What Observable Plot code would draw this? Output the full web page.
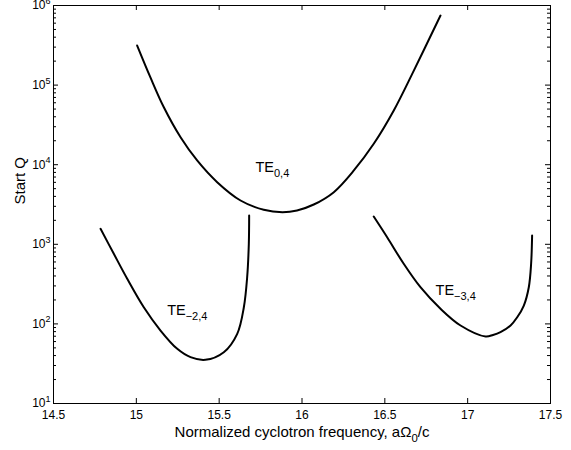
<!DOCTYPE html>
<html>
<head>
<meta charset="utf-8">
<script src="https://cdn.jsdelivr.net/npm/d3@7"></script>
<script src="https://cdn.jsdelivr.net/npm/@observablehq/plot@0.6"></script>
<style>
  html, body { margin: 0; padding: 0; background: white; }
  #chart { width: 571px; height: 450px; }
</style>
</head>
<body>
<div id="chart"></div>
<script>
// ---- data ----
const te04X = [15.005, 15.085, 15.166, 15.267, 15.367, 15.488, 15.629, 15.769, 15.882, 15.97, 16.071, 16.192, 16.313, 16.433, 16.554, 16.675, 16.836];
const te04Q = [314000, 125000, 52600, 22100, 11300, 6030, 3550, 2710, 2530, 2660, 3160, 4520, 8460, 18300, 48000, 152000, 748000];

const te24X = [14.784, 14.864, 14.945, 15.045, 15.146, 15.247, 15.327, 15.417, 15.528, 15.609, 15.649, 15.669, 15.679, 15.681];
const te24Q = [1566, 760, 369, 162, 82.6, 48.6, 38.2, 35.4, 44.1, 75.1, 162, 386, 1013, 2300];

const te34X = [16.433, 16.514, 16.614, 16.715, 16.836, 16.957, 17.108, 17.153, 17.198, 17.259, 17.299, 17.339, 17.369, 17.383, 17.389];
const te34Q = [2234, 1227, 569, 289, 155, 95.5, 69.5, 72.6, 78.7, 95.5, 121, 170, 289, 569, 1291];

const modeNames = ["TE_{0,4}", "TE_{\u22122,4}", "TE_{\u22123,4}"];
const labelX = [15.719, 15.186, 16.806];
const labelQ = [9330, 148, 264];

const xTicks = [14.5, 15, 15.5, 16, 16.5, 17, 17.5];
const xTickLabels = ["14.5", "15", "15.5", "16", "16.5", "17", "17.5"];
const yTicks = [1e1, 1e2, 1e3, 1e4, 1e5, 1e6];
const yTickLabels = ["10^{1}", "10^{2}", "10^{3}", "10^{4}", "10^{5}", "10^{6}"];
const yMinor = [2,3,4,5,6,7,8,9].flatMap(m => [1e1,1e2,1e3,1e4,1e5].map(p => m * p));

const xTitle = "Normalized cyclotron frequency, a\u03A9_{0}/c";
const yTitle = "Start Q";

// ---- build table ----
const curves = [[te04X, te04Q], [te24X, te24Q], [te34X, te34Q]];
const rows = curves.flatMap(([xs, qs], k) => xs.map((x, i) => ({mode: modeNames[k], x, q: qs[i]})));
const labels = modeNames.map((m, i) => ({text: m, x: labelX[i], q: labelQ[i]}));

const W = 571, H = 450, mL = 53, mR = 21, mT = 5, mB = 47;
const fw = W - mL - mR, fh = H - mT - mB;
const majorLen = 5, minorLen = 3;

const yLabelOf = d => {
  const i = yTicks.findIndex(t => Math.abs(t - d) / t < 1e-6);
  return i < 0 ? "" : yTickLabels[i];
};

const chart = Plot.plot({
  width: W, height: H,
  marginLeft: mL, marginRight: mR, marginTop: mT, marginBottom: mB,
  style: {fontFamily: "'Liberation Sans', Arial, Helvetica, sans-serif", fontSize: "12px", color: "black", background: "white", overflow: "visible"},
  x: {domain: [14.5, 17.5]},
  y: {type: "log", domain: [10, 1e6]},
  marks: [
    Plot.frame({stroke: "black", strokeWidth: 1}),
    Plot.tickX(xTicks, {x: d => d, insetTop: fh - majorLen, stroke: "black"}),
    Plot.tickX(xTicks, {x: d => d, insetBottom: fh - majorLen, stroke: "black"}),
    Plot.tickY(yTicks, {y: d => d, insetRight: fw - majorLen, stroke: "black"}),
    Plot.tickY(yTicks, {y: d => d, insetLeft: fw - majorLen, stroke: "black"}),
    Plot.tickY(yMinor, {y: d => d, insetRight: fw - minorLen, stroke: "black"}),
    Plot.tickY(yMinor, {y: d => d, insetLeft: fw - minorLen, stroke: "black"}),
    Plot.axisX({ticks: xTicks, tickSize: 0, tickPadding: 7, tickFormat: (d, i) => xTickLabels[i], label: null, fontSize: 12}),
    Plot.axisY({ticks: yTicks, tickSize: 0, tickPadding: 3, tickFormat: yLabelOf, label: null, fontSize: 12}),
    Plot.text([xTitle], {text: d => d, frameAnchor: "bottom", lineAnchor: "bottom", dy: 33, fontSize: 15, fill: "black"}),
    Plot.text([yTitle], {text: d => d, frameAnchor: "left", lineAnchor: "bottom", rotate: -90, dx: -28.5, fontSize: 15, fill: "black"}),
    Plot.line(rows, {x: "x", y: "q", z: "mode", stroke: "black", strokeWidth: 2, curve: "catmull-rom"}),
    Plot.text(labels, {x: "x", y: "q", text: "text", textAnchor: "start", fontSize: 14.5, fill: "black"})
  ]
});
document.getElementById("chart").appendChild(chart);

// ---- render _{...} and ^{...} as sub/superscripts ----
const svgns = "http://www.w3.org/2000/svg";
d3.select(chart).selectAll("text").each(function() {
  const el = this;
  const s = el.textContent;
  if (!/[_^]\{/.test(s)) return;
  const base = parseFloat(getComputedStyle(el).fontSize) || 12;
  const parts = s.split(/([_^]\{[^}]*\})/).filter(p => p);
  el.textContent = "";
  let shift = 0;
  for (const p of parts) {
    const ts = document.createElementNS(svgns, "tspan");
    let target = 0, txt = p, fs = base;
    if (p.startsWith("_{")) { target = 0.36 * base; txt = p.slice(2, -1); fs = 0.76 * base; }
    else if (p.startsWith("^{")) { target = -0.45 * base; txt = p.slice(2, -1); fs = 0.75 * base; }
    ts.setAttribute("dy", (target - shift).toFixed(2));
    ts.setAttribute("font-size", fs.toFixed(2) + "px");
    ts.textContent = txt;
    shift = target;
    el.appendChild(ts);
  }
});
</script>
</body>
</html>
